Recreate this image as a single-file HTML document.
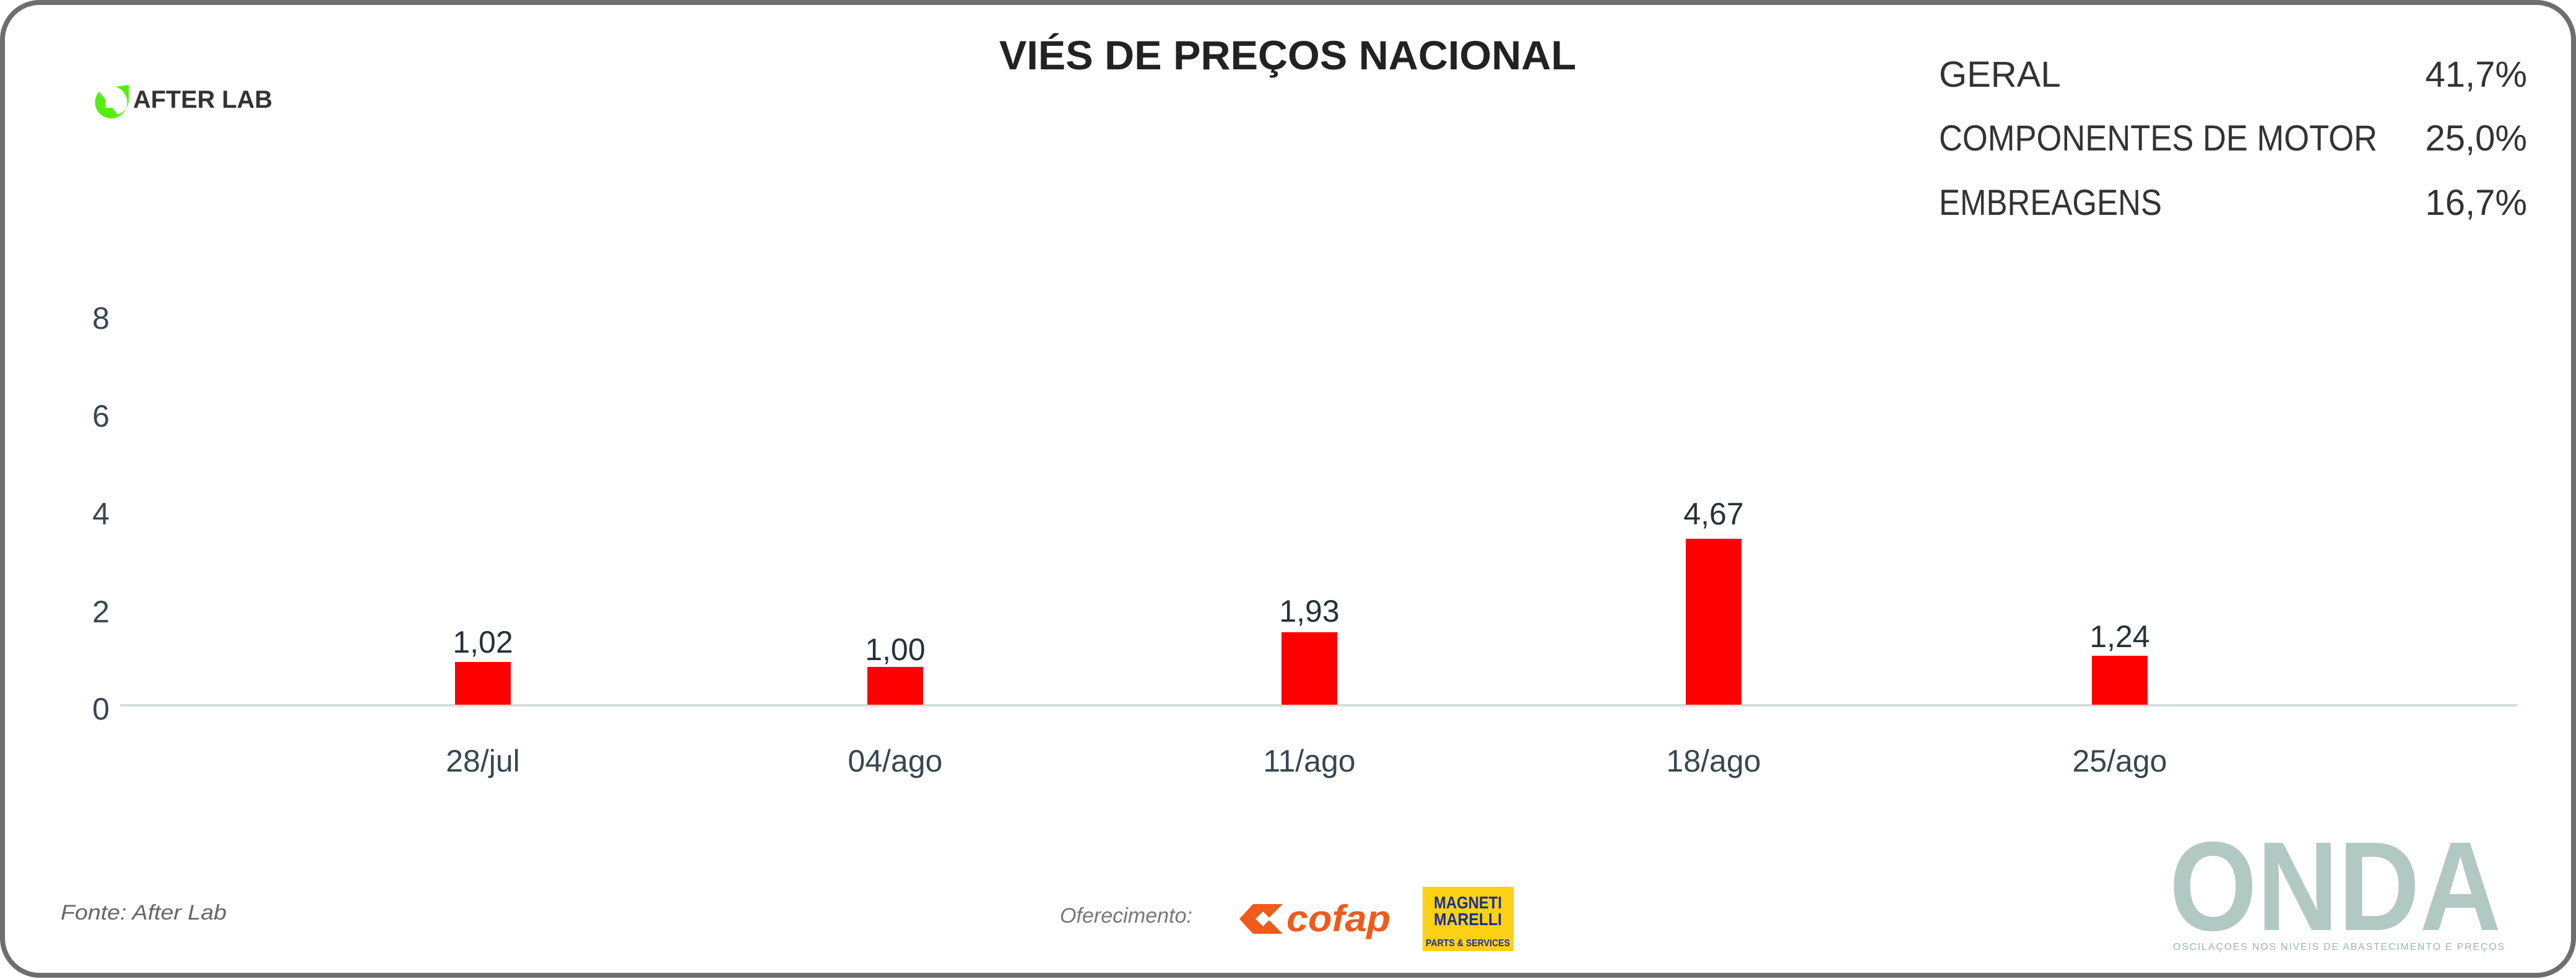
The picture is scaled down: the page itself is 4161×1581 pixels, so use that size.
<!DOCTYPE html>
<html><head><meta charset="utf-8"><style>
html,body{margin:0;padding:0;background:#fff;}
svg{display:block;}
</style></head><body>
<svg width="4161" height="1581" viewBox="0 0 4161 1581" xmlns="http://www.w3.org/2000/svg" font-family="Liberation Sans, sans-serif">
<rect x="0" y="0" width="4161" height="1581" fill="#fff"/>
<rect x="4" y="4" width="4153" height="1571" rx="60" ry="60" fill="#fff" stroke="#6e6e6e" stroke-width="8"/>

<!-- After Lab logo -->
<path d="M160 148 a26 26 0 1 0 26 -8 l22 -3 v20 a26 26 0 0 1 -18 28 z" fill="#55ee11"/>
<rect x="170" y="152" width="22" height="22" fill="#fff"/>
<text x="215" y="174" font-size="40" font-weight="bold" fill="#333" textLength="225" lengthAdjust="spacingAndGlyphs">AFTER LAB</text>

<!-- Title -->
<text x="2080" y="112" font-size="66" font-weight="bold" fill="#222" text-anchor="middle" textLength="932" lengthAdjust="spacingAndGlyphs">VIÉS DE PREÇOS NACIONAL</text>

<!-- Legend -->
<g font-size="58" fill="#333">
<text x="3132" y="140">GERAL</text>
<text x="4082" y="140" text-anchor="end">41,7%</text>
<text x="3132" y="243" textLength="708" lengthAdjust="spacingAndGlyphs">COMPONENTES DE MOTOR</text>
<text x="4082" y="243" text-anchor="end">25,0%</text>
<text x="3132" y="347" textLength="360" lengthAdjust="spacingAndGlyphs">EMBREAGENS</text>
<text x="4082" y="347" text-anchor="end">16,7%</text>
</g>

<!-- Y axis -->
<g font-size="50" fill="#37474f" text-anchor="middle">
<text x="163" y="531">8</text>
<text x="163" y="689">6</text>
<text x="163" y="847">4</text>
<text x="163" y="1005">2</text>
<text x="163" y="1162">0</text>
</g>
<line x1="194" y1="1139" x2="4066" y2="1139" stroke="#d3dedd" stroke-width="4"/>

<!-- Bars -->
<g fill="#ff0000">
<rect x="735" y="1069" width="90" height="69"/>
<rect x="1401" y="1077" width="90" height="61"/>
<rect x="2070" y="1021" width="90" height="117"/>
<rect x="2723" y="870" width="90" height="268"/>
<rect x="3379" y="1059" width="90" height="79"/>
</g>
<g font-size="50" fill="#263238" text-anchor="middle">
<text x="780" y="1054">1,02</text>
<text x="1446" y="1066">1,00</text>
<text x="2115" y="1004">1,93</text>
<text x="2768" y="847">4,67</text>
<text x="3424" y="1045">1,24</text>
</g>
<g font-size="50" fill="#37474f" text-anchor="middle">
<text x="780" y="1246">28/jul</text>
<text x="1446" y="1246">04/ago</text>
<text x="2115" y="1246">11/ago</text>
<text x="2768" y="1246">18/ago</text>
<text x="3424" y="1246">25/ago</text>
</g>

<!-- Footer -->
<text x="98" y="1485" font-size="34" font-style="italic" fill="#666" textLength="268" lengthAdjust="spacingAndGlyphs">Fonte: After Lab</text>
<text x="1712" y="1490" font-size="34" font-style="italic" fill="#777" textLength="214" lengthAdjust="spacingAndGlyphs">Oferecimento:</text>

<!-- cofap -->
<path d="M2002 1484 l22 -24 h48 l-24 24 l24 24 h-48 z" fill="#f05a1a"/>
<path d="M2028 1484 l12 -12 l12 12 l-12 12 z" fill="#fff"/>
<text x="2078" y="1504" font-size="60" font-weight="bold" font-style="italic" fill="#f05a1a" textLength="168" lengthAdjust="spacingAndGlyphs">cofap</text>

<!-- Magneti Marelli -->
<rect x="2298" y="1432" width="147" height="104" fill="#fcd116"/>
<text x="2371" y="1467" font-size="28" font-weight="bold" fill="#1a2f8f" text-anchor="middle" textLength="110" lengthAdjust="spacingAndGlyphs">MAGNETI</text>
<text x="2371" y="1494" font-size="28" font-weight="bold" fill="#1a2f8f" text-anchor="middle" textLength="110" lengthAdjust="spacingAndGlyphs">MARELLI</text>
<text x="2371" y="1528" font-size="16" font-weight="bold" fill="#1a2f8f" text-anchor="middle" textLength="136" lengthAdjust="spacingAndGlyphs">PARTS &amp; SERVICES</text>

<!-- ONDA -->
<text x="3504" y="1502" font-size="205" font-weight="bold" fill="#b2c8c3" textLength="536" lengthAdjust="spacingAndGlyphs">ONDA</text>
<text x="3510" y="1534" font-size="16" fill="#9fb5b0" textLength="535" lengthAdjust="spacing">OSCILAÇOES NOS NIVEIS DE ABASTECIMENTO E PREÇOS</text>
</svg>
</body></html>
